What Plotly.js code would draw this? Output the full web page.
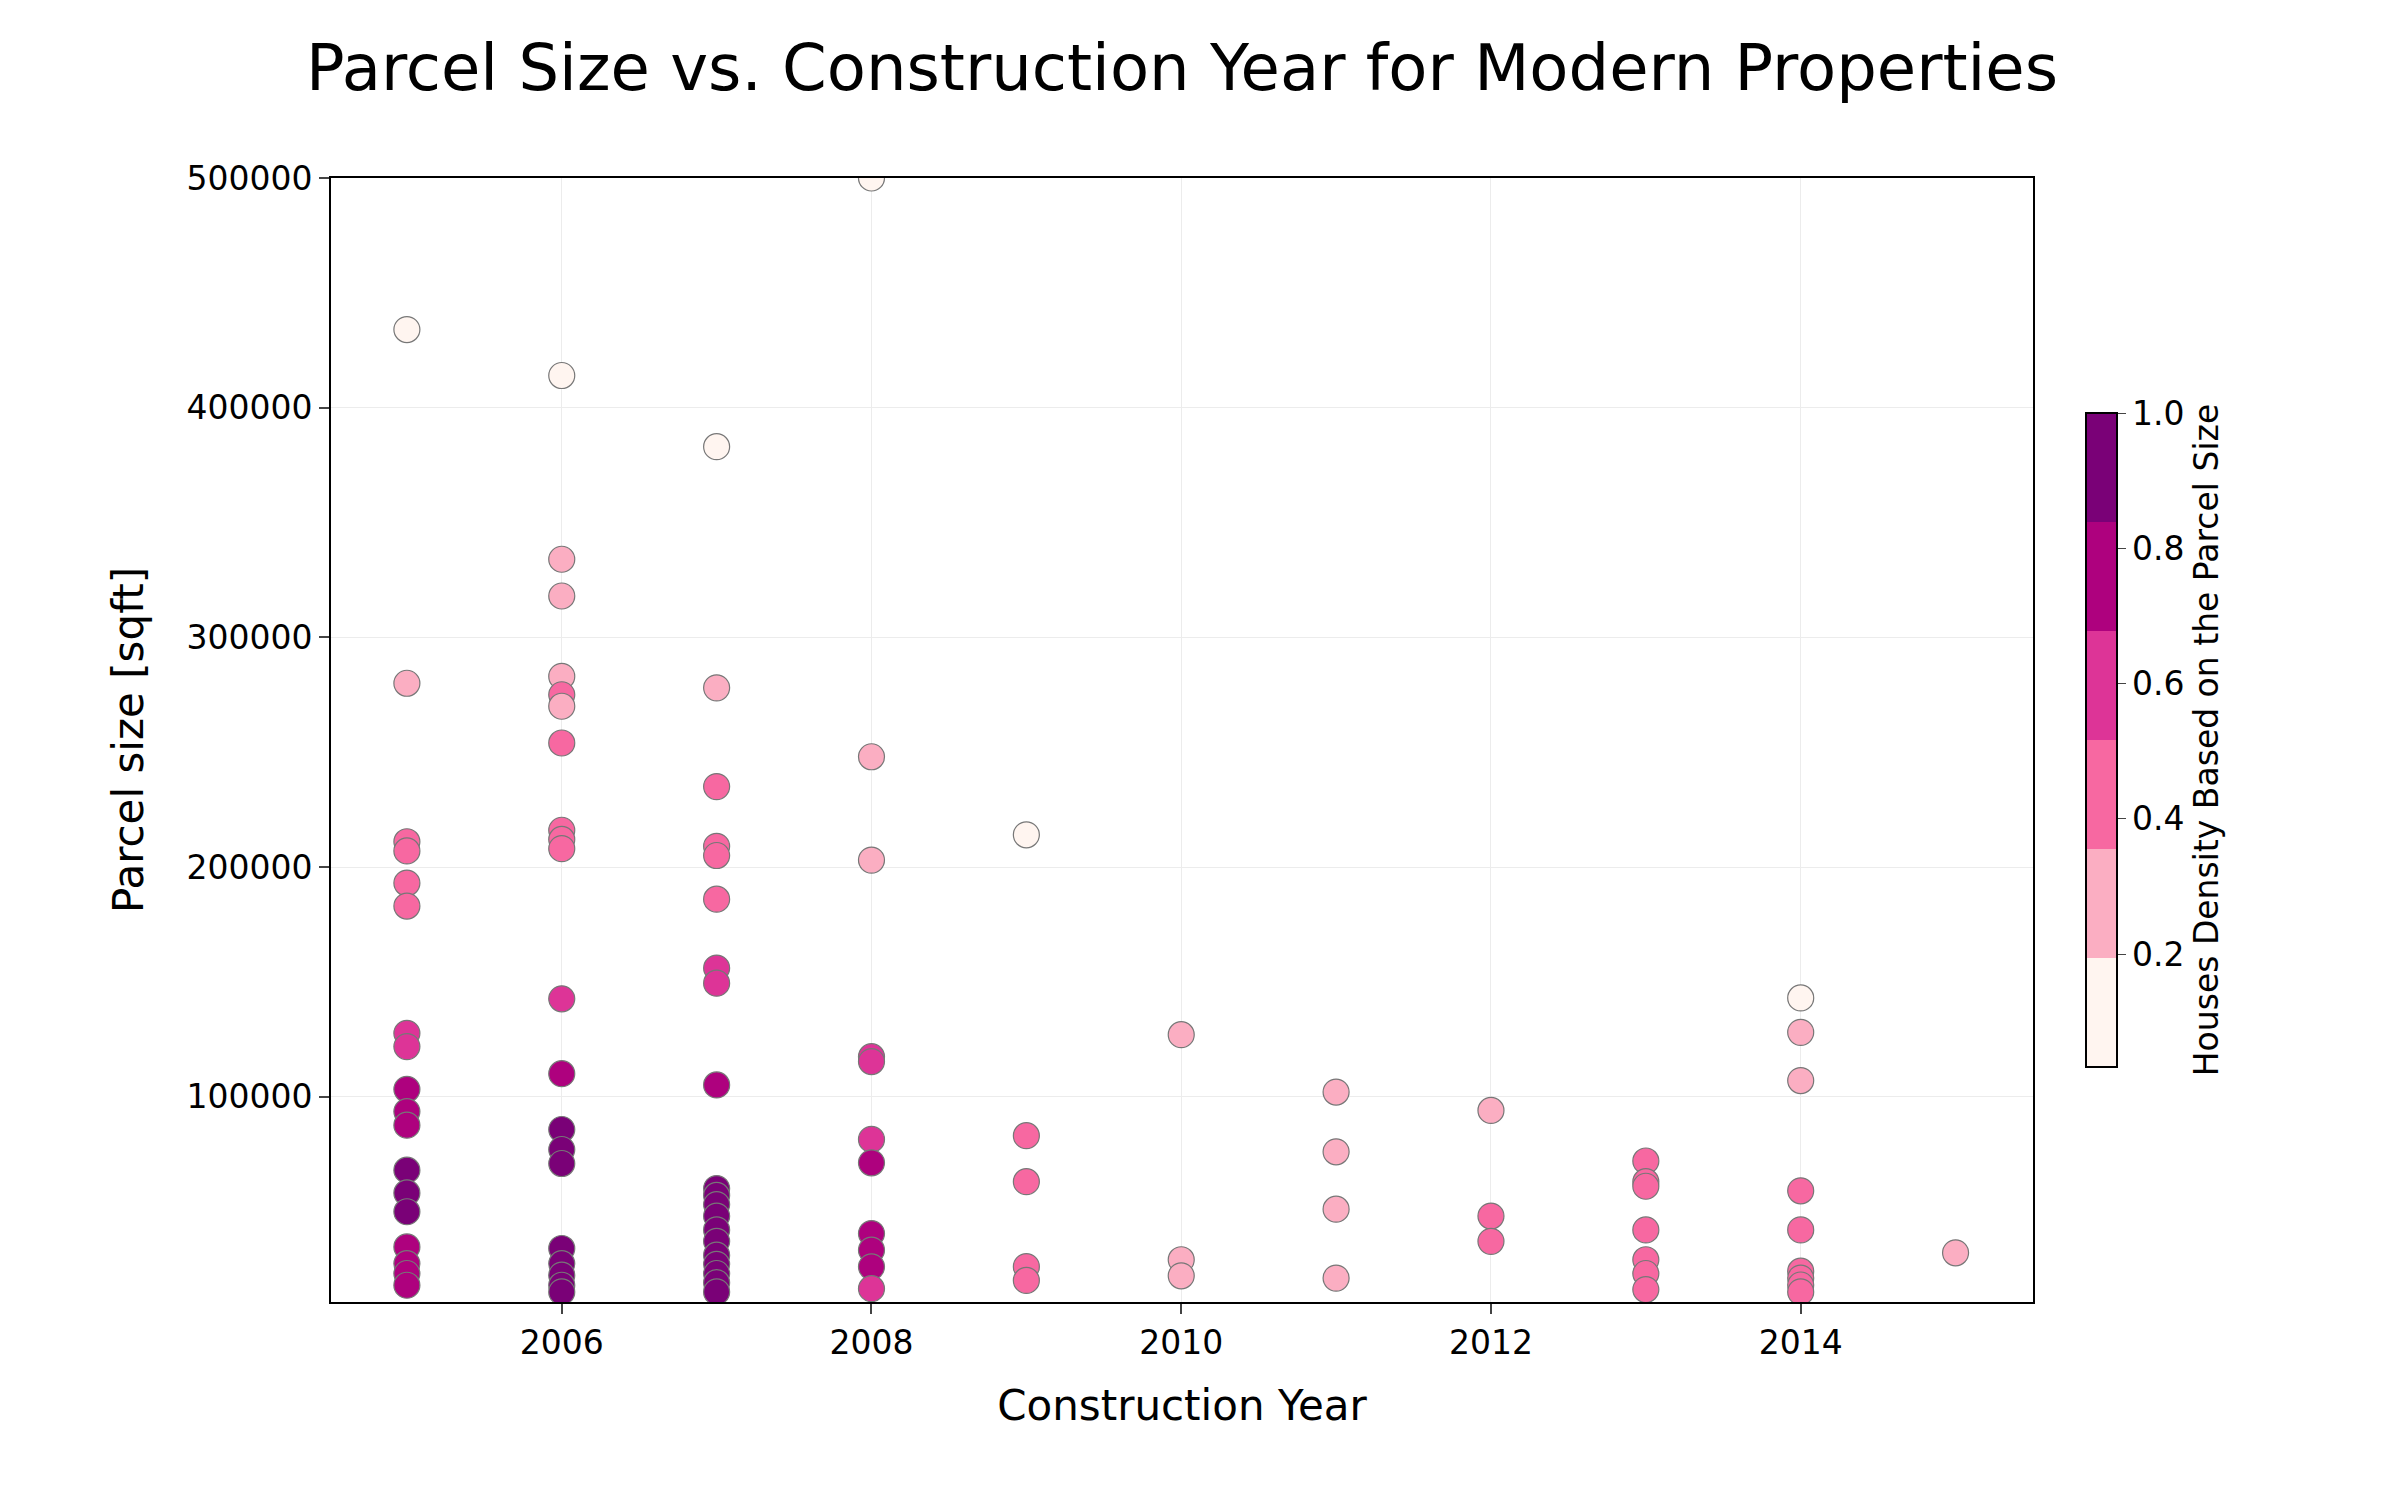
<!DOCTYPE html>
<html>
<head>
<meta charset="utf-8">
<script src="https://cdn.plot.ly/plotly-3.0.1.min.js"></script>
<style>body{margin:0;background:#fff;} #chart{width:2400px;height:1500px;}</style>
</head>
<body>
<div id="chart"></div>
<script>
// density bands (centres of the 6 colour steps)
var B1 = 0.11, B2 = 0.27, B3 = 0.43, B4 = 0.60, B5 = 0.76, B6 = 0.92;

var years = [
  2005,2005,2005,2005,2005,2005,2005,2005,2005,2005,2005,2005,2005,2005,2005,2005,2005,2005,
  2006,2006,2006,2006,2006,2006,2006,2006,2006,2006,2006,2006,2006,2006,2006,2006,2006,2006,2006,2006,
  2007,2007,2007,2007,2007,2007,2007,2007,2007,2007,2007,2007,2007,2007,2007,2007,2007,2007,2007,2007,
  2008,2008,2008,2008,2008,2008,2008,2008,2008,2008,2008,
  2009,2009,2009,2009,2009,
  2010,2010,2010,
  2011,2011,2011,2011,
  2012,2012,2012,
  2013,2013,2013,2013,2013,2013,2013,
  2014,2014,2014,2014,2014,2014,2014,2014,2014,
  2015
];
var parcelSize = [
  434000,280000,211000,207000,193000,183000,127600,121800,103200,93500,87600,68000,58100,49900,34600,27300,23000,17900,
  414000,334000,318000,283000,275000,270000,254000,216000,212000,208000,142600,110000,85700,77000,70900,33900,27300,22300,17900,15000,
  383000,278000,235000,209000,205000,186000,156000,149400,105100,60000,57000,53000,48000,42000,37000,31000,27000,23000,19000,15000,
  500000,248000,203000,117400,115300,81400,71200,40400,33200,25900,16400,
  214000,83000,63000,26000,20000,
  127000,29000,22000,
  102000,76000,51000,21000,
  94000,48000,37000,
  72000,63000,61000,42000,29000,23000,16000,
  143000,128000,107000,59000,42000,24000,21000,18000,15000,
  32000
];
var density = [
  B1,B2,B3,B3,B3,B3,B4,B4,B5,B5,B5,B6,B6,B6,B5,B5,B5,B5,
  B1,B2,B2,B2,B3,B2,B3,B3,B3,B3,B4,B5,B6,B6,B6,B6,B6,B6,B6,B6,
  B1,B2,B3,B3,B3,B3,B4,B4,B5,B6,B6,B6,B6,B6,B6,B6,B6,B6,B6,B6,
  B1,B2,B2,B4,B4,B4,B5,B5,B5,B5,B4,
  B1,B3,B3,B3,B3,
  B2,B2,B2,
  B2,B2,B2,B2,
  B2,B3,B3,
  B3,B3,B3,B3,B3,B3,B3,
  B1,B2,B2,B3,B3,B3,B3,B3,B3,
  B2
];

var cols = ['#fff5f0','#fbaec2','#f768a1','#dd3497','#ae017e','#7a0177'];
var cmin = 0.033, cmax = 1.0, scale = [];
for (var i = 0; i < cols.length; i++) {
  scale.push([i / cols.length, cols[i]]);
  scale.push([(i + 1) / cols.length, cols[i]]);
}

var trace = {
  x: years, y: parcelSize, mode: 'markers', type: 'scatter',
  marker: {
    size: 26, color: density, colorscale: scale, cmin: cmin, cmax: cmax,
    line: {color: '#777', width: 1.2},
    colorbar: {
      x: 1.025, xanchor: 'left', y: 0.5, yanchor: 'middle', len: 0.6,
      thickness: 31, outlinewidth: 2, outlinecolor: '#000',
      tickvals: [0.2, 0.4, 0.6, 0.8, 1.0], ticktext: ['0.2','0.4','0.6','0.8','1.0'],
      ticks: 'outside', ticklen: 8, tickfont: {size: 33, color: '#000'},
      title: {text: 'Houses Density Based on the Parcel Size', side: 'right', font: {size: 33, color: '#000'}}
    }
  }
};

var layout = {
  width: 2400, height: 1500,
  paper_bgcolor: '#fff', plot_bgcolor: '#fff',
  font: {family: 'DejaVu Sans', color: '#000'},
  margin: {l: 331, r: 367, t: 178, b: 198},
  title: {text: 'Parcel Size vs. Construction Year for Modern Properties', x: 0.5, xref: 'paper', y: 0.97, font: {size: 64}},
  showlegend: false,
  xaxis: {
    range: [2004.51, 2015.5], tickvals: [2006, 2008, 2010, 2012, 2014],
    showgrid: true, gridcolor: '#ececec', zeroline: false,
    showline: true, mirror: true, linecolor: '#000', linewidth: 2,
    ticks: 'outside', ticklen: 10, tickwidth: 2, tickfont: {size: 33},
    title: {text: 'Construction Year', font: {size: 42}, standoff: 30}
  },
  yaxis: {
    range: [10600, 500000], tickvals: [100000, 200000, 300000, 400000, 500000],
    tickformat: 'd', showgrid: true, gridcolor: '#ececec', zeroline: false,
    showline: true, mirror: true, linecolor: '#000', linewidth: 2,
    ticks: 'outside', ticklen: 10, tickwidth: 2, tickfont: {size: 33},
    title: {text: 'Parcel size [sqft]', font: {size: 42}, standoff: 30}
  }
};

Plotly.newPlot('chart', [trace], layout, {displayModeBar: false});
</script>
</body>
</html>
